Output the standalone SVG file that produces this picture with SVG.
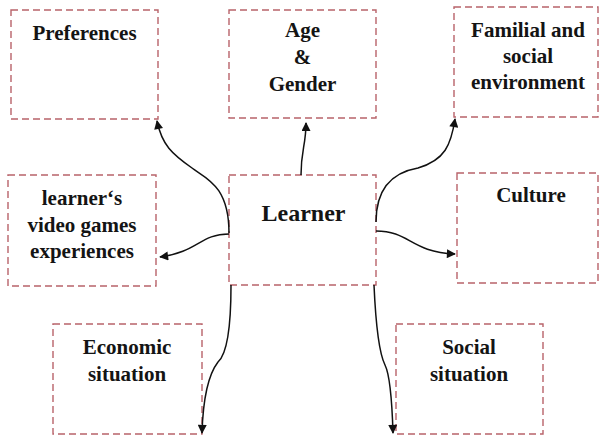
<svg xmlns="http://www.w3.org/2000/svg" width="602" height="436" viewBox="0 0 602 436">
  <style>
    .box { fill: #ffffff; stroke: #b8636a; stroke-width: 1.4; stroke-dasharray: 7 4; }
    .lbl { font-family: "Liberation Serif", "Times New Roman", serif; font-weight: bold; font-size: 21px; fill: #141414; text-anchor: middle; }
    .main { font-size: 24px; }
    .edge { fill: none; stroke: #111111; stroke-width: 1.5; }
  </style>
  <defs>
    <marker id="arrow" viewBox="0 0 10 10" refX="9" refY="5" markerWidth="11" markerHeight="9" markerUnits="userSpaceOnUse" orient="auto">
      <path d="M0,0 L10,5 L0,10 Z" fill="#111111"/>
    </marker>
  </defs>
  <rect width="602" height="436" fill="#ffffff"/>

  <g id="preferences">
    <rect class="box" x="11" y="10" width="147" height="109"/>
    <text class="lbl" x="84.5" y="40">Preferences</text>
  </g>

  <g id="age-gender">
    <rect class="box" x="229" y="10" width="147" height="108"/>
    <text class="lbl" x="302.5" y="37">Age</text>
    <text class="lbl" x="302.5" y="64">&amp;</text>
    <text class="lbl" x="302.5" y="91">Gender</text>
  </g>

  <g id="familial">
    <rect class="box" x="454" y="7" width="144" height="110"/>
    <text class="lbl" x="528" y="37">Familial and</text>
    <text class="lbl" x="528" y="63">social</text>
    <text class="lbl" x="528" y="89">environment</text>
  </g>

  <g id="video-games">
    <rect class="box" x="8" y="175" width="148" height="111"/>
    <text class="lbl" x="82" y="205">learner‘s</text>
    <text class="lbl" x="82" y="232">video games</text>
    <text class="lbl" x="82" y="258">experiences</text>
  </g>

  <g id="learner">
    <rect class="box" x="229" y="175" width="147" height="110"/>
    <text class="lbl main" x="303.5" y="221">Learner</text>
  </g>

  <g id="culture">
    <rect class="box" x="457" y="173" width="141" height="110"/>
    <text class="lbl" x="531" y="202">Culture</text>
  </g>

  <g id="economic">
    <rect class="box" x="53" y="324" width="149" height="110"/>
    <text class="lbl" x="127" y="354">Economic</text>
    <text class="lbl" x="127" y="381">situation</text>
  </g>

  <g id="social">
    <rect class="box" x="396" y="324" width="147" height="110"/>
    <text class="lbl" x="469" y="354">Social</text>
    <text class="lbl" x="469" y="381">situation</text>
  </g>

  <g id="connectors">
    <path class="edge" marker-end="url(#arrow)" d="M229,233 C229,185 205,178 192,168 C172,154 162,145 157,121"/>
    <path class="edge" marker-end="url(#arrow)" d="M229,234 C200,234 198,252 160,257"/>
    <path class="edge" marker-end="url(#arrow)" d="M301,175 C301,150 306,145 306,123"/>
    <path class="edge" marker-end="url(#arrow)" d="M376,222 C376,185 395,172 418,168 C445,160 451,145 455,119"/>
    <path class="edge" marker-end="url(#arrow)" d="M376,231 C410,231 410,252 455,254"/>
    <path class="edge" marker-end="url(#arrow)" d="M231,285 C231,330 226,355 218,362 C208,375 203,400 202,433"/>
    <path class="edge" marker-end="url(#arrow)" d="M374,285 C376,330 380,355 385,365 C390,375 392,400 393,433"/>
  </g>
</svg>
